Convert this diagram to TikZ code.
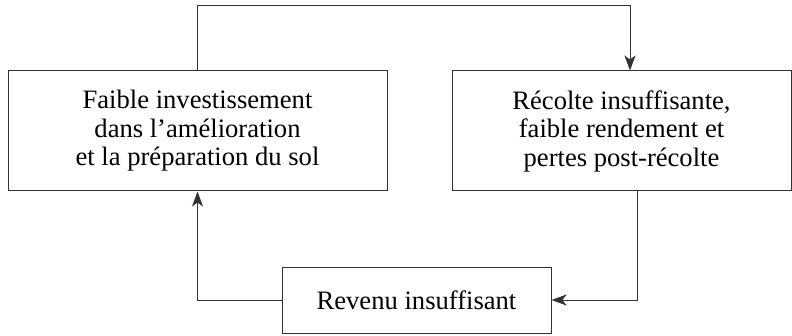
\documentclass[tikz,border=0pt]{standalone}
\usepackage{fontspec}
\setmainfont{Liberation Serif}
\usetikzlibrary{arrows.meta,positioning}

\begin{document}
\begin{tikzpicture}[
    x=1pt, y=1pt,
    box/.style={rectangle, draw=black!80, line width=1pt, inner sep=0pt, align=center, font=\fontsize{26.6}{28.5}\selectfont},
    arrow/.style={-{Stealth[length=15pt, width=11pt, inset=4pt]}, draw=black!80, line width=1pt}
]
    \useasboundingbox (0,0) rectangle (792,335);

    \node[box, minimum width=379pt, minimum height=120pt] (invest) at (197.5,204) {Faible investissement\\dans l’amélioration\\et la préparation du sol};
    \node[box, minimum width=339pt, minimum height=120pt] (recolte) at (621.5,204) {Récolte insuffisante,\\faible rendement et\\pertes post-récolte};
    \node[box, minimum width=269pt, minimum height=66pt] (revenu) at (416.5,35) {Revenu insuffisant};

    \coordinate (haut) at (197.5,329.5);

    \draw[arrow] (invest.north) -- (haut) -| ([xshift=8.5pt]recolte.north);
    \draw[arrow] ([xshift=15.5pt]recolte.south) |- (revenu.east);
    \draw[arrow] (revenu.west) -| (invest.south);
\end{tikzpicture}
\end{document}
